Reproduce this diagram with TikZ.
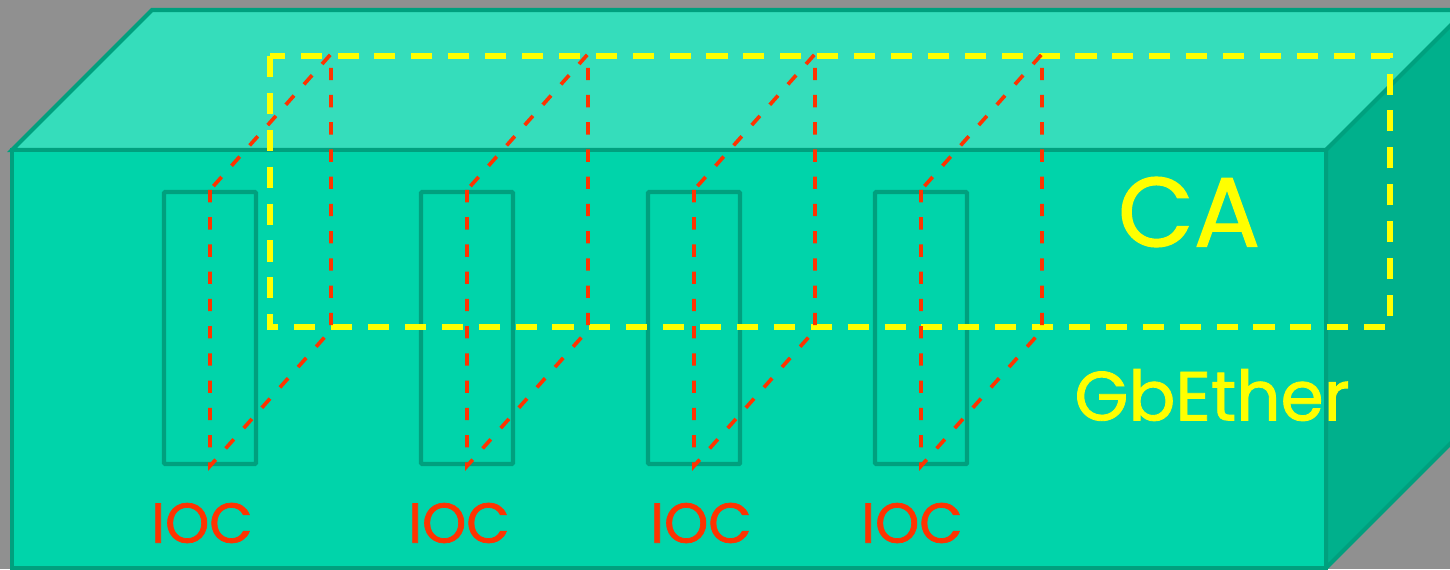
\documentclass[tikz,border=0pt]{standalone}
\usepackage{fontspec}
\setmainfont{Poppins}
\newfontfamily\lblfont{Poppins}[BoldFont={Poppins}, BoldFeatures={FakeBold=1.2}]
\usetikzlibrary{calc}
\definecolor{bgray}{HTML}{909090}
\definecolor{frontc}{HTML}{00D4AA}
\definecolor{topc}{HTML}{35DDBB}
\definecolor{sidec}{HTML}{00B08C}
\definecolor{edgec}{HTML}{00A07E}
\definecolor{redc}{HTML}{FF3300}
\definecolor{yelc}{HTML}{FFFF00}
\tikzset{
  face/.style={draw=edgec, line width=2.3pt, line join=miter},
  slotbox/.style={draw=edgec, line width=2.3pt, minimum width=92*0.02cm, minimum height=272*0.02cm, inner sep=0pt, rounded corners=0.5pt},
  reddash/.style={draw=redc, line width=2.1pt, dash pattern=on 7pt off 8.5pt},
  yeldash/.style={draw=yelc, line width=3pt, dash pattern=on 12pt off 9pt},
  ioclabel/.style={text=redc, font=\lblfont\bfseries\fontsize{32}{38}\selectfont, inner sep=0pt},
}
\begin{document}
\begin{tikzpicture}[x=0.02cm, y=-0.02cm]
\useasboundingbox (0,0) rectangle (1450,569);
\fill[bgray] (0,0) rectangle (1450,569);
\begin{scope}
\clip (0,0) rectangle (1450,569);
\filldraw[face, fill=topc] (12,150) -- (152,10) -- (1480,10) -- (1326,150) -- cycle;
\filldraw[face, fill=sidec] (1326,150) -- (1466,10) -- (1466,428) -- (1326,568) -- cycle;
\filldraw[face, fill=frontc] (12,150) rectangle (1326,568);
\end{scope}
% slots
\foreach \i/\x in {1/210, 2/467, 3/694, 4/921} {
  \node[slotbox] (slot\i) at (\x,328) {};
}
% yellow dashed rectangle
\coordinate (ytl) at (270,56);
\coordinate (ybr) at (1390,327);
\draw[yeldash] (ytl) rectangle (ybr);
% red dashed frames
\foreach \i in {1,2,3,4} {
  \coordinate (bt\i) at ($(slot\i.north)+(121,-136)$);
  \coordinate (bb\i) at ($(slot\i.south)+(121,-136)$);
  \draw[reddash] (slot\i.north) -- (slot\i.south) -- (bb\i) -- (bt\i) -- cycle;
}
% labels
\node[text=yelc, font=\lblfont\bfseries\fontsize{56}{62}\selectfont, inner sep=0pt] (ca) at (1189,212) {CA};
\node[text=yelc, font=\lblfont\bfseries\fontsize{39.5}{46}\selectfont, inner sep=0pt] (gb) at (1212,395) {GbEther};
\node[ioclabel] (ioc1) at (202,523) {IOC};
\node[ioclabel] (ioc2) at (459,523) {IOC};
\node[ioclabel] (ioc3) at (701,523) {IOC};
\node[ioclabel] (ioc4) at (912,523) {IOC};
\end{tikzpicture}
\end{document}
